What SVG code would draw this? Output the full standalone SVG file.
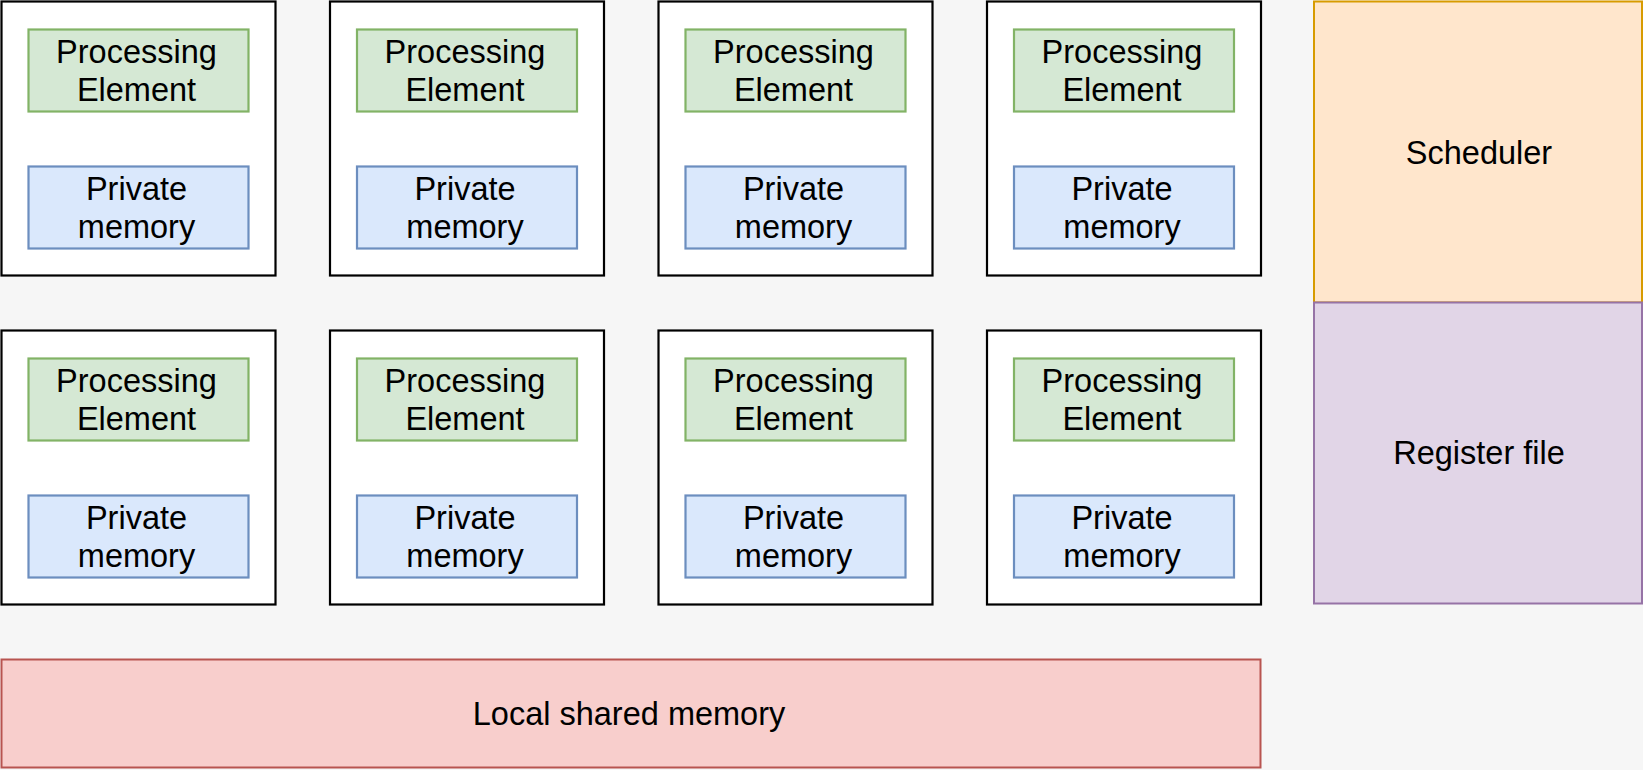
<svg xmlns="http://www.w3.org/2000/svg" width="1643" height="770" viewBox="0 0 1643 770">
<style>
.cell{fill:#ffffff;stroke:#000000;stroke-width:2.2}
.pe{fill:#d5e8d4;stroke:#82b366;stroke-width:2.2}
.pm{fill:#dae8fc;stroke:#6c8ebf;stroke-width:2.2}
.t{font-family:"Liberation Sans",Arial,Helvetica,sans-serif;font-size:32.5px;fill:#000;text-anchor:middle}
</style>
<defs>
<g id="unit">
<rect class="cell" x="0" y="0" width="274" height="274"/>
<rect class="pe" x="27" y="28" width="220" height="82"/>
<text class="t" x="135" y="61">Processing</text>
<text class="t" x="135" y="99">Element</text>
<rect class="pm" x="27" y="165" width="220" height="82"/>
<text class="t" x="135" y="198">Private</text>
<text class="t" x="135" y="236">memory</text>
</g>
</defs>
<rect x="0" y="0" width="1643" height="770" fill="#f6f6f6"/>
<g id="cu1"><use href="#unit" x="1.5" y="1.5"/></g>
<g id="cu2"><use href="#unit" x="330" y="1.5"/></g>
<g id="cu3"><use href="#unit" x="658.5" y="1.5"/></g>
<g id="cu4"><use href="#unit" x="987" y="1.5"/></g>
<g id="cu5"><use href="#unit" x="1.5" y="330.5"/></g>
<g id="cu6"><use href="#unit" x="330" y="330.5"/></g>
<g id="cu7"><use href="#unit" x="658.5" y="330.5"/></g>
<g id="cu8"><use href="#unit" x="987" y="330.5"/></g>
<g id="scheduler">
<rect x="1314" y="1.5" width="328" height="301" fill="#ffe6cc" stroke="#d79b00" stroke-width="2"/>
<text class="t" x="1479" y="164">Scheduler</text>
</g>
<g id="register">
<rect x="1314" y="302.5" width="328" height="301" fill="#e1d5e7" stroke="#9673a6" stroke-width="2"/>
<text class="t" x="1479" y="464">Register file</text>
</g>
<g id="shared">
<rect x="1.5" y="659.5" width="1259" height="108" fill="#f8cecc" stroke="#b85450" stroke-width="2"/>
<text class="t" x="629" y="725">Local shared memory</text>
</g>
<g id="connectors"/>
</svg>
